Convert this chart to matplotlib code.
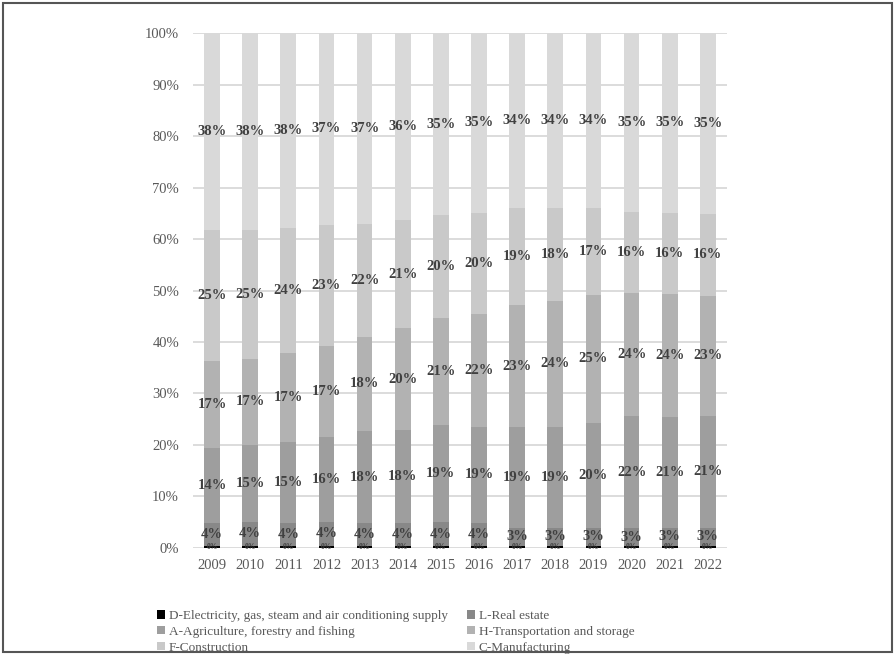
import matplotlib
matplotlib.use("Agg")
import matplotlib.pyplot as plt
import numpy as np
from matplotlib.patches import Patch, Rectangle

plt.rcParams['font.family'] = ['Liberation Serif', 'DejaVu Serif']

years = ['2009', '2010', '2011', '2012', '2013', '2014', '2015',
         '2016', '2017', '2018', '2019', '2020', '2021', '2022']

# sector shares (% of total), stacked bottom to top
electricity = [0.45, 0.45, 0.45, 0.45, 0.45, 0.4, 0.45, 0.4, 0.45, 0.45, 0.45, 0.4, 0.45, 0.45]
real_estate = [4.4, 4.45, 4.45, 4.45, 4.4, 4.4, 4.45, 4.4, 3.45, 3.45, 3.45, 3.4, 3.45, 3.45]
agriculture = [14.4, 14.7, 15.45, 16.4, 17.6, 17.9, 18.8, 18.6, 19.45, 19.3, 20.2, 21.7, 21.4, 21.4]
transport = [16.6, 16.6, 17.2, 17.3, 18.2, 19.5, 20.5, 21.6, 23.3, 24.1, 24.6, 23.8, 23.6, 23.0]
construction = [25.1, 24.6, 24.1, 23.2, 21.6, 20.8, 19.8, 19.6, 18.8, 17.8, 16.8, 15.6, 15.6, 15.8]
manufacturing = [37.8, 37.6, 37.5, 36.6, 36.8, 35.9, 35.0, 34.6, 33.6, 33.5, 33.6, 34.6, 34.6, 34.6]

series = [electricity, real_estate, agriculture, transport, construction, manufacturing]
names = ['D-Electricity, gas, steam and air conditioning supply', 'L-Real estate',
         'A-Agriculture, forestry and fishing', 'H-Transportation and storage',
         'F-Construction', 'C-Manufacturing']
colors = ['#000000', '#888888', '#9e9e9e', '#b2b2b2', '#c9c9c9', '#d9d9d9']

raw = np.array(series)
shares = raw / raw.sum(axis=0) * 100


def pct(v):
    # round half up, like the spreadsheet labels
    return f"{int(np.floor(v + 0.5))}%"


fig = plt.figure(figsize=(8.95, 6.54), dpi=100)
ax = fig.add_axes([0.2156, 0.1621, 0.5966, 0.7874])

x = np.arange(len(years))
bottom = np.zeros(len(years))
for i in range(len(series)):
    ax.bar(x, shares[i], 0.41, bottom=bottom, color=colors[i], zorder=2)
    size = 5.5 if i == 0 else 10.5
    for j in range(len(years)):
        yc = bottom[j] + shares[i][j] / 2
        ax.text(x[j], yc, pct(raw[i][j]), ha='center', va='center',
                fontsize=size, fontweight='bold', color='#404040', zorder=3)
    bottom += shares[i]

ax.set_xlim(-0.5, 13.5)
ax.set_ylim(0, 100)
ax.set_yticks(np.arange(0, 101, 10))
ax.set_yticklabels([f"{v}%" for v in range(0, 101, 10)])
ax.set_xticks(x)
ax.set_xticklabels(years)
ax.tick_params(length=0, labelsize=10.5, labelcolor='#595959')
ax.tick_params(axis='y', pad=10)
ax.tick_params(axis='x', pad=8)
ax.grid(axis='y', color='#d9d9d9', linewidth=1.3, zorder=0)
ax.set_axisbelow(True)
for s in ax.spines.values():
    s.set_visible(False)

handles = [Patch(facecolor=c) for c in colors]
order = [0, 2, 4, 1, 3, 5]
fig.legend([handles[k] for k in order], [names[k] for k in order],
           ncol=2, loc='upper left', bbox_to_anchor=(0.168, 0.077),
           frameon=False, fontsize=9.5, labelcolor='#595959',
           handlelength=0.6, handleheight=0.6, handletextpad=0.3,
           labelspacing=0.28, columnspacing=1.45, borderpad=0)

fig.patches.append(Rectangle((0.003, 0.003), 0.994, 0.992, transform=fig.transFigure,
                             fill=False, edgecolor='#555555', linewidth=1.5))

fig.savefig('out.png', dpi=100)
